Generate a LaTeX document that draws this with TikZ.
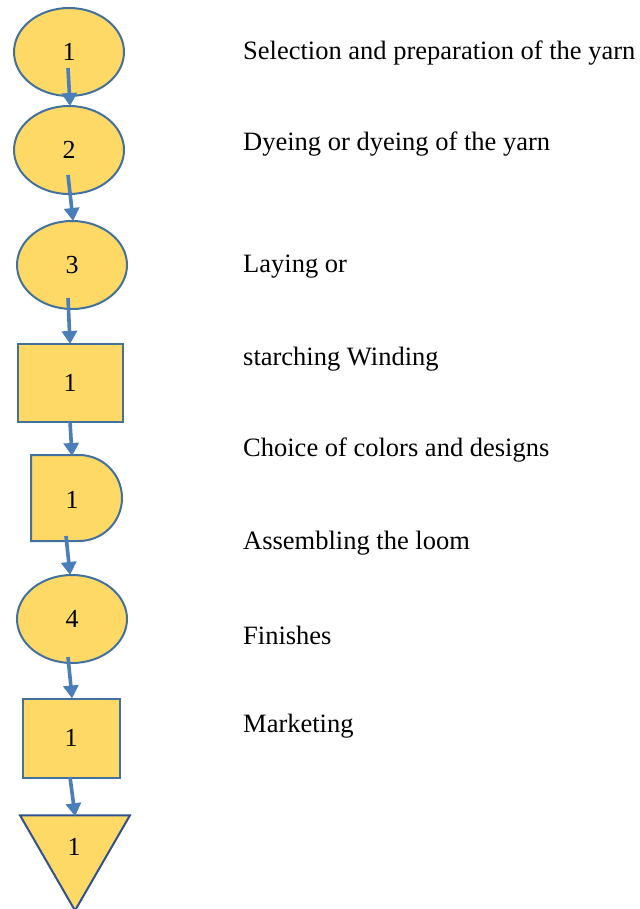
\documentclass[tikz,border=0pt]{standalone}
\usepackage{fontspec}
\setmainfont{Liberation Serif}
\usetikzlibrary{shapes.geometric,arrows.meta,calc}
\definecolor{fillY}{HTML}{FFD966}
\definecolor{edgeB}{HTML}{41719C}
\definecolor{arrB}{HTML}{4A7EBB}
\definecolor{triB}{HTML}{2F528F}
\tikzset{
  ell/.style={ellipse,draw=edgeB,fill=fillY,line width=2pt,minimum width=110pt,minimum height=88pt,inner sep=0pt,font=\fontsize{26}{30}\selectfont},
  box/.style={rectangle,draw=edgeB,fill=fillY,line width=2pt,inner sep=0pt,font=\fontsize{26}{30}\selectfont},
  lbl/.style={inner sep=0pt,font=\fontsize{26}{30}\selectfont},
  txt/.style={anchor=west,inner sep=0pt,font=\fontsize{26.5}{30}\selectfont},
  arr/.style={draw=arrB,line width=3.6pt,-{Triangle[width=15pt,length=13pt]},shorten >=-1pt}
}
\begin{document}
\begin{tikzpicture}[x=1pt,y=-1pt]
\useasboundingbox (0,0) rectangle (639,909);
% shapes
\node[ell] (e1) at (69,52) {1};
\node[ell] (e2) at (69,150) {2};
\node[ell] (e3) at (72,265) {3};
\node[box,minimum width=105pt,minimum height=78pt] (r1) at (70,383) {1};
\draw[draw=edgeB,fill=fillY,line width=2pt] (31,541) -- (31,455) -- (79,455) arc[start angle=90,end angle=-90,radius=43pt] -- cycle;
\node[lbl] (d1) at (72,500) {1};
\node[ell] (e4) at (72,619) {4};
\node[box,minimum width=97pt,minimum height=79pt] (r2) at (71,738) {1};
\node[regular polygon,regular polygon sides=3,shape border rotate=180,minimum size=127pt,inner sep=0pt,draw=triB,fill=fillY,line width=2pt] (t1) at (75,847) {};
\node[lbl] (t1l) at (74,847) {1};
% connectors
\coordinate (c1) at (68,68);
\coordinate (c2) at (68,175);
\coordinate (c3) at (68,298);
\coordinate (c4) at (70,422);
\coordinate (c5) at (66,536);
\coordinate (c6) at (68,657);
\coordinate (c7) at (70,777);
\draw[arr] (c1) -- ($(e2.north)+(1,0)$);
\draw[arr] (c2) -- ($(e3.north)+(1,0)$);
\draw[arr] (c3) -- (r1.north);
\draw[arr] (c4) -- (72,455);
\draw[arr] (c5) -- ($(e4.north)+(-2,0)$);
\draw[arr] (c6) -- ($(r2.north)+(1,0)$);
\draw[arr] (c7) -- ($(t1.corner 2)!0.5!(t1.corner 3)+(0,1)$);
% texts
\node[txt] (s1) at (243,53) {Selection and preparation of the yarn};
\node[txt] (s2) at (243,144) {Dyeing or dyeing of the yarn};
\node[txt] (s3) at (243,267) {Laying or};
\node[txt] (s4) at (243,359) {starching Winding};
\node[txt] (s5) at (243,450) {Choice of colors and designs};
\node[txt] (s6) at (243,543) {Assembling the loom};
\node[txt] (s7) at (243,635) {Finishes};
\node[txt] (s8) at (243,726) {Marketing};
\end{tikzpicture}
\end{document}
